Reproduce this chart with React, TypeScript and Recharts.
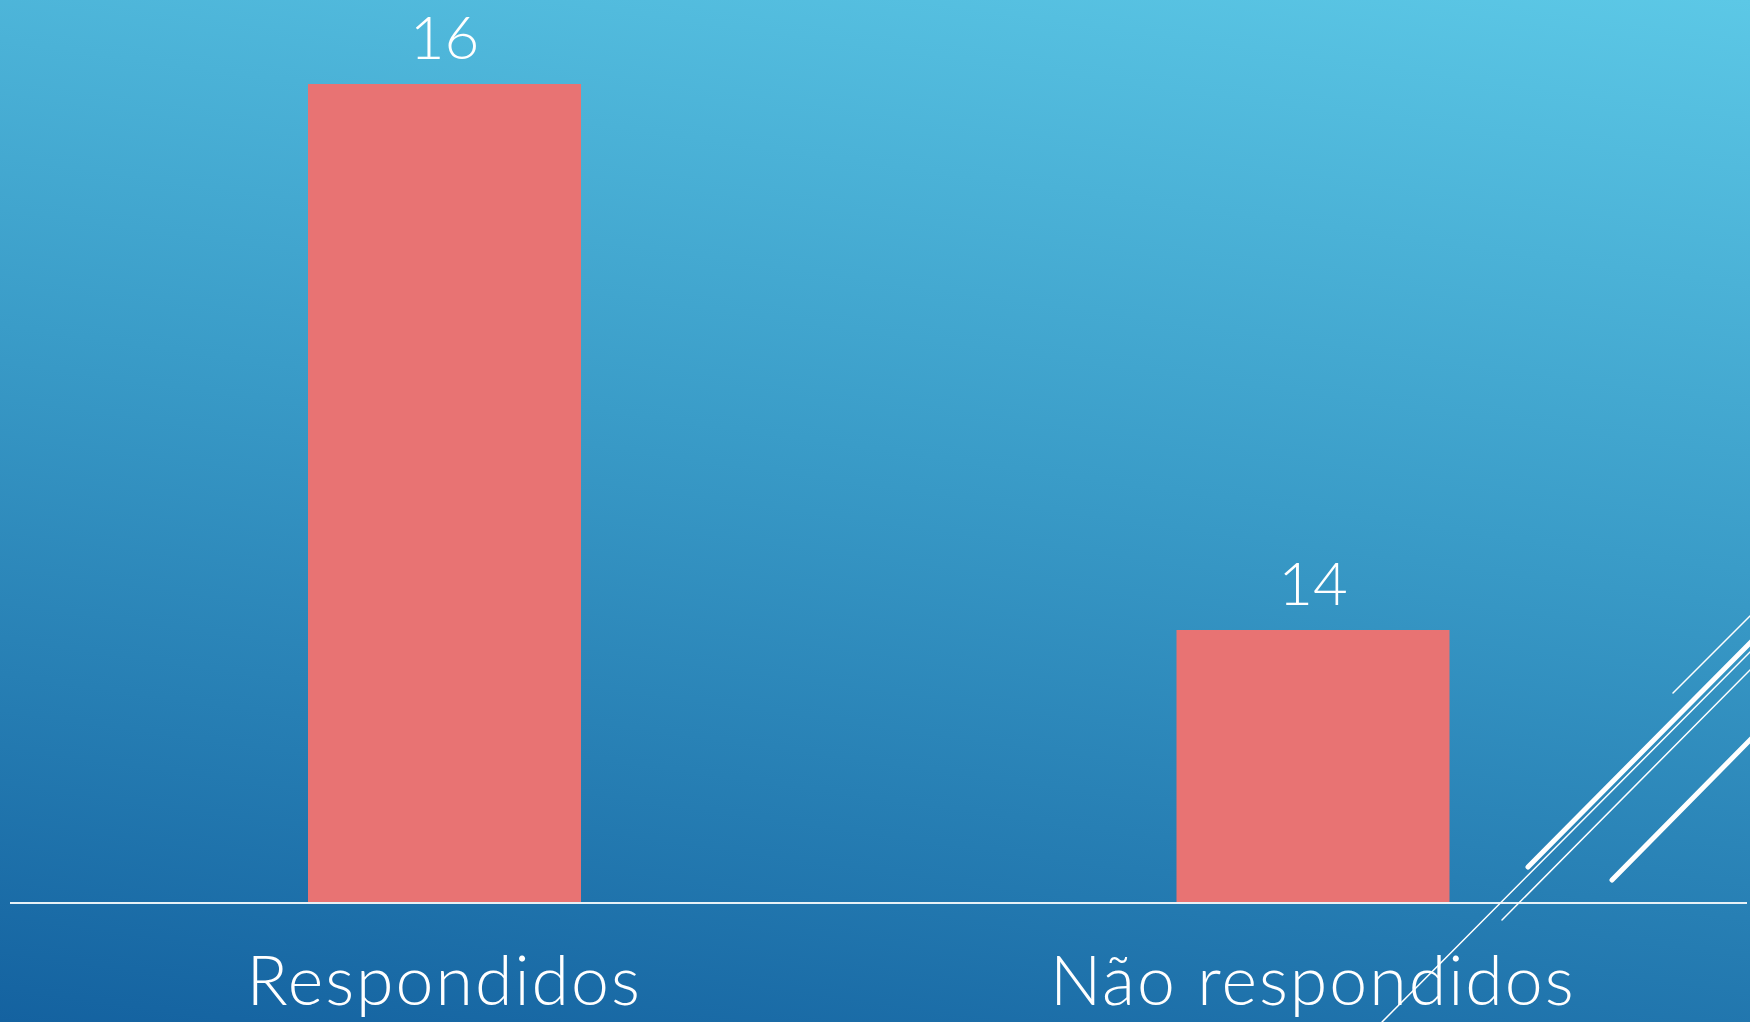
import { BarChart, Bar, XAxis, YAxis, LabelList } from 'recharts';

const categories = ['Respondidos', 'Não respondidos'];
const values = [16, 14];
const yDomain = [13, 16];

const data = categories.map((name, i) => ({ name, value: values[i] }));

const FONT = 'Lato, "Open Sans", sans-serif';

// category label under the axis line
function CategoryTick(props: any) {
    const { x, y, payload } = props;
    return (
        <text
            x={x}
            y={y + 102}
            textAnchor="middle"
            fill="#ffffff"
            fontFamily={FONT}
            fontWeight={300}
            fontSize={68}
            letterSpacing={2}
        >
            {payload.value}
        </text>
    );
}

export default function App() {
    return (
        <div
            style={{
                position: 'absolute',
                left: 0,
                top: 0,
                width: 1750,
                height: 1022,
                overflow: 'hidden',
                background: 'linear-gradient(188deg, #5cc8e6 0%, #3a9cc8 45%, #1462a0 100%)'
            }}
        >
            <BarChart
                width={1750}
                height={1022}
                data={data}
                margin={{ top: 84, right: 3, left: 10, bottom: 0 }}
            >
                <XAxis
                    dataKey="name"
                    height={119}
                    tickLine={false}
                    tickSize={0}
                    tickMargin={0}
                    axisLine={{ stroke: '#e6f1f7', strokeWidth: 2 }}
                    tick={<CategoryTick />}
                    interval={0}
                />
                <YAxis hide domain={yDomain} />
                <Bar dataKey="value" fill="#e87373" barSize={273} isAnimationActive={false}>
                    <LabelList
                        dataKey="value"
                        position="top"
                        offset={25}
                        fill="#ffffff"
                        fontFamily={FONT}
                        fontWeight={300}
                        fontSize={60}
                    />
                </Bar>
            </BarChart>
            {/* slide decoration, bottom right */}
            <svg
                width={1750}
                height={1022}
                style={{ position: 'absolute', left: 0, top: 0, pointerEvents: 'none' }}
            >
                <g stroke="#ffffff" strokeLinecap="round" fill="none">
                    <line x1={1673} y1={693} x2={1752} y2={614} strokeWidth={1.5} />
                    <line x1={1528} y1={867} x2={1752} y2={641} strokeWidth={5} />
                    <line x1={1382} y1={1022} x2={1752} y2={650} strokeWidth={1.5} />
                    <line x1={1502} y1={920} x2={1752} y2={668} strokeWidth={1.5} />
                    <line x1={1612} y1={880} x2={1752} y2={738} strokeWidth={5} />
                </g>
            </svg>
        </div>
    );
}
